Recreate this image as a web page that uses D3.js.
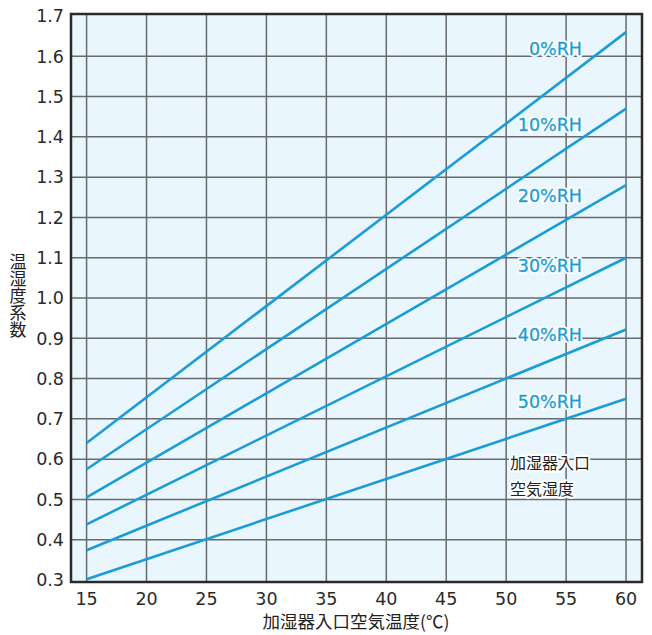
<!DOCTYPE html>
<html><head><meta charset="utf-8">
<script src="https://cdn.jsdelivr.net/npm/d3@7"></script>
<style>body{margin:0;background:#fff;} svg{display:block;}</style>
</head><body>
<svg id="c" width="652" height="635"></svg>
<script>
const xTicks = [15,20,25,30,35,40,45,50,55,60];
const yTicks = [0.3,0.4,0.5,0.6,0.7,0.8,0.9,1.0,1.1,1.2,1.3,1.4,1.5,1.6,1.7];
const temps = [15, 60];
const seriesNames = ["0%RH","10%RH","20%RH","30%RH","40%RH","50%RH"];
const rh0  = [0.64, 1.66];
const rh10 = [0.575, 1.47];
const rh20 = [0.505, 1.28];
const rh30 = [0.438, 1.10];
const rh40 = [0.374, 0.922];
const rh50 = [0.302, 0.75];
const labelY = [1.62, 1.43, 1.255, 1.08, 0.91, 0.742];
const xTitle = "加湿器入口空気温度(℃)";
const yTitle = "温湿度系数";
const note = ["加湿器入口","空気湿度"];

(function(){
const svg = d3.select("#c");
const x = d3.scaleLinear().domain([13.7, 61.33]).range([71, 642]);
const y = d3.scaleLinear().domain([0.3, 1.7]).range([580, 16]);
const pTop = 14, pBot = 582, pLeft = 71, pRight = 642;
const blue = "#1a9dd5";
const font = "'Noto Sans CJK JP','Noto Sans',sans-serif";
const numFont = "'DejaVu Sans',sans-serif";

svg.append("rect").attr("x",pLeft).attr("y",pTop).attr("width",pRight-pLeft).attr("height",pBot-pTop).attr("fill","#e9f6fd");

svg.append("g").selectAll("line").data(xTicks).join("line")
  .attr("x1",d=>x(d)).attr("x2",d=>x(d)).attr("y1",pTop).attr("y2",pBot)
  .attr("stroke","#666b6d").attr("stroke-width",1.5);
svg.append("g").selectAll("line").data(yTicks.slice(1,-1)).join("line")
  .attr("y1",d=>y(d)).attr("y2",d=>y(d)).attr("x1",pLeft).attr("x2",pRight)
  .attr("stroke","#666b6d").attr("stroke-width",1.5);

const series = [rh0, rh10, rh20, rh30, rh40, rh50];
const line = d3.line().x((d,i)=>x(temps[i])).y(d=>y(d));
svg.append("g").selectAll("path").data(series).join("path")
  .attr("d", d=>line(d)).attr("fill","none").attr("stroke",blue).attr("stroke-width",2.6);

svg.append("rect").attr("x",pLeft).attr("y",pTop).attr("width",pRight-pLeft).attr("height",pBot-pTop)
  .attr("fill","none").attr("stroke","#2a2a2a").attr("stroke-width",2.5);

const lab = svg.append("g").attr("font-family",numFont).attr("font-size",17.5).attr("text-anchor","end");
lab.selectAll("text.h").data(seriesNames).join("text").attr("class","h")
  .attr("x",582).attr("y",(d,i)=>y(labelY[i])).attr("dy","0.36em")
  .attr("fill","none").attr("stroke","#fff").attr("stroke-width",4).attr("stroke-linejoin","round").text(d=>d);
lab.selectAll("text.t").data(seriesNames).join("text").attr("class","t")
  .attr("x",582).attr("y",(d,i)=>y(labelY[i])).attr("dy","0.36em")
  .attr("fill",blue).attr("stroke",blue).attr("stroke-width",0.3).text(d=>d);

const ng = svg.append("g").attr("font-family",font).attr("font-size",16).attr("fill","#222");
note.forEach((t,i)=>{
  ng.append("text").attr("x",510).attr("y",469+i*26).attr("stroke","#fff").attr("stroke-width",4).attr("stroke-linejoin","round").attr("fill","none").text(t);
  ng.append("text").attr("x",510).attr("y",469+i*26).text(t);
});

svg.append("g").attr("font-family",numFont).attr("font-size",17.5).attr("fill","#2a2a2a").attr("text-anchor","end")
  .selectAll("text").data(yTicks).join("text")
  .attr("x",64).attr("y",d=>y(d)).attr("dy","0.36em").text(d=>d.toFixed(1));
svg.append("g").attr("font-family",numFont).attr("font-size",17.5).attr("fill","#2a2a2a").attr("text-anchor","middle")
  .selectAll("text").data(xTicks).join("text")
  .attr("x",d=>x(d)).attr("y",605).text(d=>d);

svg.append("text").attr("x",356).attr("y",628).attr("text-anchor","middle")
  .attr("font-family",font).attr("font-size",17.5).attr("fill","#222").text(xTitle);

svg.append("text").attr("x",18).attr("y",296).attr("text-anchor","middle")
  .attr("writing-mode","vertical-rl").style("writing-mode","vertical-rl")
  .attr("font-family",font).attr("font-size",17).attr("fill","#222").text(yTitle);
})();
</script>
</body></html>
